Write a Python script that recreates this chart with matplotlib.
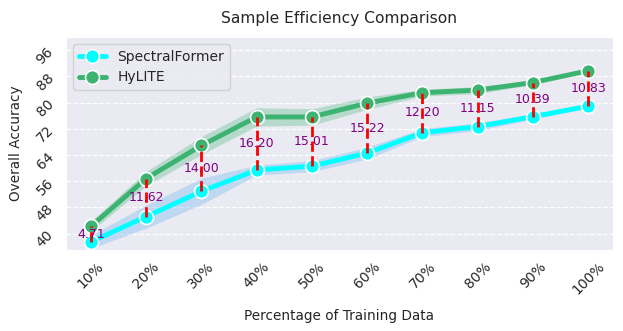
import numpy as np
import matplotlib
matplotlib.use("Agg")
import matplotlib.pyplot as plt
import seaborn as sns

categories = ["10%", "20%", "30%", "40%", "50%", "60%", "70%", "80%", "90%", "100%"]
hylite = [42.20, 56.80, 66.90, 75.60, 75.60, 79.80, 83.00, 83.80, 86.10, 89.70]
spectralformer = [37.49, 45.18, 52.90, 59.40, 60.59, 64.58, 70.80, 72.65, 75.71, 78.87]
hylite_std = [1.5, 2.2, 2.7, 2.8, 2.5, 1.9, 1.0, 1.1, 0.6, 0.1]
spectralformer_std = [2.0, 3.5, 4.0, 1.5, 1.7, 1.8, 1.2, 1.2, 0.8, 0.5]
yticks = [40, 48, 56, 64, 72, 80, 88, 96]

sns.set_style("darkgrid")
plt.rcParams['font.family'] = ['DejaVu Sans']

fig, ax = plt.subplots(figsize=(6.23, 3.31), dpi=100)
x = np.arange(len(categories))
hy = np.array(hylite)
sf = np.array(spectralformer)
hs = np.array(hylite_std)
ss = np.array(spectralformer_std)

ax.fill_between(x, sf - ss, sf + ss, color="#8cc4f0", alpha=0.45, linewidth=0)
ax.fill_between(x, hy - hs, hy + hs, color="#3cb371", alpha=0.3, linewidth=0)
ax.plot(x, sf, color="#00ffff", lw=3.5, marker="o", markersize=10,
        markerfacecolor="#00ffff", markeredgecolor="white", markeredgewidth=1.2,
        label="SpectralFormer", zorder=3)
ax.plot(x, hy, color="#3cb371", lw=3.5, marker="o", markersize=10,
        markerfacecolor="#3cb371", markeredgecolor="white", markeredgewidth=1.2,
        label="HyLITE", zorder=3)

for i in range(len(x)):
    ax.plot([x[i], x[i]], [sf[i], hy[i]], color="red", ls="--", lw=2, zorder=4)
    ax.text(x[i], (sf[i] + hy[i]) / 2, f"{hy[i] - sf[i]:.2f}", color="purple",
            ha="center", va="center", fontsize=9, zorder=5)

ax.set_xticks(x)
ax.set_xticklabels(categories, rotation=45)
ax.set_yticks(yticks)
ax.tick_params(axis="y", labelrotation=45)
ax.set_ylim(35, 100)
ax.grid(axis="x", visible=False)
ax.grid(axis="y", color="white", linestyle="--", linewidth=0.9)
ax.set_title("Sample Efficiency Comparison", fontsize=11.2, pad=10)
ax.set_xlabel("Percentage of Training Data", fontsize=9.8, labelpad=8)
ax.set_ylabel("Overall Accuracy", fontsize=9.8, labelpad=8)
ax.legend(loc="upper left", fontsize=10)

fig.subplots_adjust(left=66/623, right=613/623, top=1-37/331, bottom=1-250/331)
fig.savefig("out.png", dpi=100)
